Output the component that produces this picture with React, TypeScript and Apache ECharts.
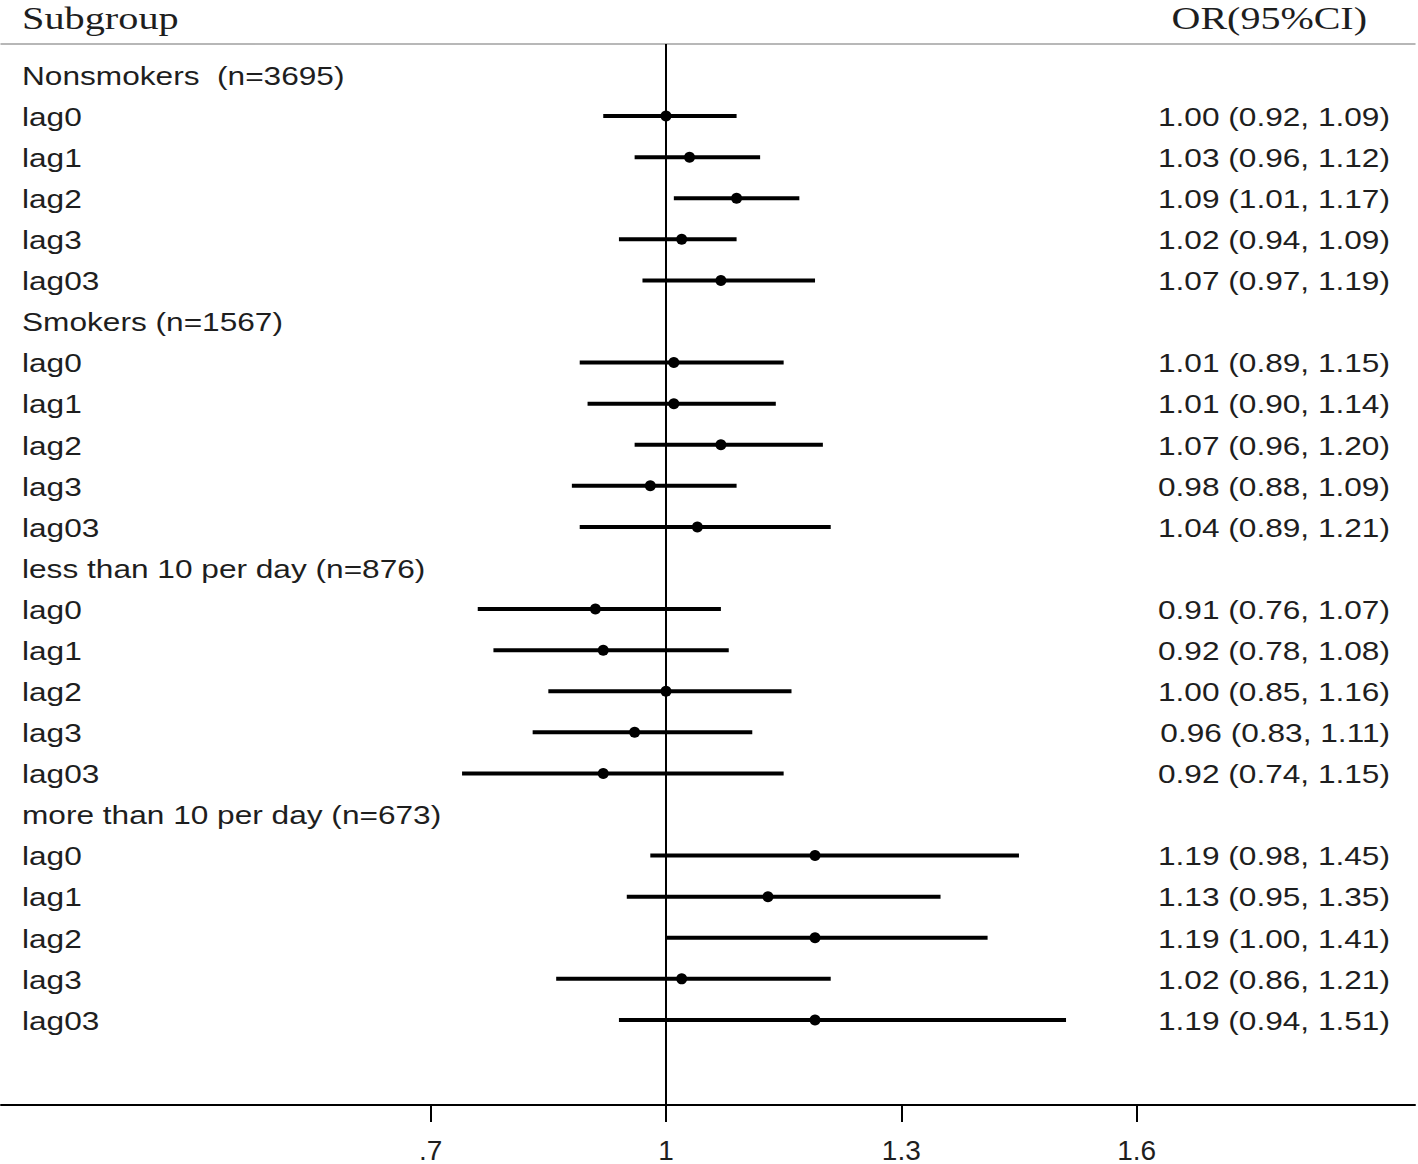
import React, { useEffect, useRef } from "react";
import * as echarts from "echarts";

const rowLabels: string[] = [
  "Nonsmokers  (n=3695)", "lag0", "lag1", "lag2", "lag3", "lag03",
  "Smokers (n=1567)", "lag0", "lag1", "lag2", "lag3", "lag03",
  "less than 10 per day (n=876)", "lag0", "lag1", "lag2", "lag3", "lag03",
  "more than 10 per day (n=673)", "lag0", "lag1", "lag2", "lag3", "lag03",
];

const estimates: (number | null)[] = [
  null, 1.0, 1.03, 1.09, 1.02, 1.07,
  null, 1.01, 1.01, 1.07, 0.98, 1.04,
  null, 0.91, 0.92, 1.0, 0.96, 0.92,
  null, 1.19, 1.13, 1.19, 1.02, 1.19,
];
const lowerCI: (number | null)[] = [
  null, 0.92, 0.96, 1.01, 0.94, 0.97,
  null, 0.89, 0.9, 0.96, 0.88, 0.89,
  null, 0.76, 0.78, 0.85, 0.83, 0.74,
  null, 0.98, 0.95, 1.0, 0.86, 0.94,
];
const upperCI: (number | null)[] = [
  null, 1.09, 1.12, 1.17, 1.09, 1.19,
  null, 1.15, 1.14, 1.2, 1.09, 1.21,
  null, 1.07, 1.08, 1.16, 1.11, 1.15,
  null, 1.45, 1.35, 1.41, 1.21, 1.51,
];

const tickValues = [0.7, 1, 1.3, 1.6];
const tickLabels = [".7", "1", "1.3", "1.6"];

const headerLeft = "Subgroup";
const headerRight = "OR(95%CI)";

const SANS = "'Liberation Sans', Arial, sans-serif";
const SERIF = "'Liberation Serif', 'Times New Roman', serif";
const TEXT_COLOR = "#1e1e1e";
const STRETCH = 1.265;

export default function App() {
  const ref = useRef<HTMLDivElement>(null);

  useEffect(() => {
    if (!ref.current) return;
    const chart = echarts.init(ref.current, undefined, { renderer: "svg" });

    const ciData: number[][] = [];
    estimates.forEach((e, i) => {
      if (e !== null) ciData.push([i, e, lowerCI[i] as number, upperCI[i] as number]);
    });
    const labelData = rowLabels.map((_, i) => [1, i]);

    const option: any = {
      animation: false,
      backgroundColor: "#fff",
      grid: { left: 1, right: 3, top: 44, bottom: 58, containLabel: false },
      xAxis: [
        {
          type: "value",
          position: "bottom",
          min: 0.1522,
          max: 1.9549,
          splitLine: { show: false },
          axisLine: { show: true, onZero: false, lineStyle: { color: "#000", width: 2 } },
          axisTick: {
            show: true,
            customValues: tickValues,
            length: 17,
            lineStyle: { color: "#000", width: 2 },
          },
          axisLabel: {
            show: true,
            customValues: tickValues,
            margin: 31,
            fontSize: 28,
            fontFamily: SANS,
            color: TEXT_COLOR,
            formatter: (v: number) => {
              const idx = tickValues.findIndex((t) => Math.abs(t - v) < 1e-6);
              return idx >= 0 ? tickLabels[idx] : "";
            },
          },
        },
        {
          type: "value",
          position: "top",
          min: 0.1522,
          max: 1.9549,
          splitLine: { show: false },
          axisLine: { show: true, onZero: false, lineStyle: { color: "#a0a0a0", width: 1.5 } },
          axisTick: { show: false },
          axisLabel: { show: false },
        },
      ],
      yAxis: {
        type: "value",
        inverse: true,
        min: -0.754,
        max: 25.07,
        show: false,
        splitLine: { show: false },
      },
      graphic: [
        {
          type: "text",
          x: 22,
          y: 19,
          scaleX: 1.3,
          style: {
            text: headerLeft,
            font: `31px ${SERIF}`,
            fill: TEXT_COLOR,
            textAlign: "left",
            align: "left",
            textVerticalAlign: "middle",
            verticalAlign: "middle",
          },
        },
        {
          type: "text",
          x: 1367,
          y: 19,
          scaleX: 1.29,
          style: {
            text: headerRight,
            font: `31px ${SERIF}`,
            fill: TEXT_COLOR,
            textAlign: "right",
            align: "right",
            textVerticalAlign: "middle",
            verticalAlign: "middle",
          },
        },
      ],
      series: [
        {
          type: "custom",
          name: "labels",
          xAxisIndex: 0,
          data: labelData,
          silent: true,
          renderItem: (params: any, api: any) => {
            const row = api.value(1);
            const p = api.coord([1, row]);
            const cs = params.coordSys;
            return {
              type: "text",
              x: cs.x + 21,
              y: p[1] + 1,
              scaleX: STRETCH,
              style: {
                text: rowLabels[row],
                font: `25px ${SANS}`,
                fill: TEXT_COLOR,
                textAlign: "left",
                align: "left",
                textVerticalAlign: "middle",
                verticalAlign: "middle",
              },
            };
          },
        },
        {
          type: "custom",
          name: "ci",
          xAxisIndex: 0,
          data: ciData,
          silent: true,
          renderItem: (params: any, api: any) => {
            const row = api.value(0);
            const est = api.value(1);
            const lo = api.value(2);
            const hi = api.value(3);
            const pE = api.coord([est, row]);
            const pL = api.coord([lo, row]);
            const pH = api.coord([hi, row]);
            const cs = params.coordSys;
            const txt = `${est.toFixed(2)} (${lo.toFixed(2)}, ${hi.toFixed(2)})`;
            return {
              type: "group",
              children: [
                {
                  type: "line",
                  shape: { x1: pL[0], y1: pL[1], x2: pH[0], y2: pH[1] },
                  style: { stroke: "#000", lineWidth: 4 },
                },
                {
                  type: "circle",
                  shape: { cx: pE[0], cy: pE[1], r: 5.5 },
                  style: { fill: "#000" },
                },
                {
                  type: "text",
                  x: cs.x + cs.width - 25,
                  y: pE[1] + 1,
                  scaleX: STRETCH,
                  style: {
                    text: txt,
                    font: `25px ${SANS}`,
                    fill: TEXT_COLOR,
                    textAlign: "right",
                    align: "right",
                    textVerticalAlign: "middle",
                    verticalAlign: "middle",
                  },
                },
              ],
            };
          },
          markLine: {
            silent: true,
            symbol: "none",
            label: { show: false },
            lineStyle: { color: "#000", width: 2, type: "solid" },
            data: [{ xAxis: 1 }],
          },
        },
      ],
    };

    chart.setOption(option);
    return () => chart.dispose();
  }, []);

  return (
    <div
      ref={ref}
      style={{ position: "absolute", left: 0, top: 0, width: 1418, height: 1164, background: "#fff" }}
    />
  );
}
